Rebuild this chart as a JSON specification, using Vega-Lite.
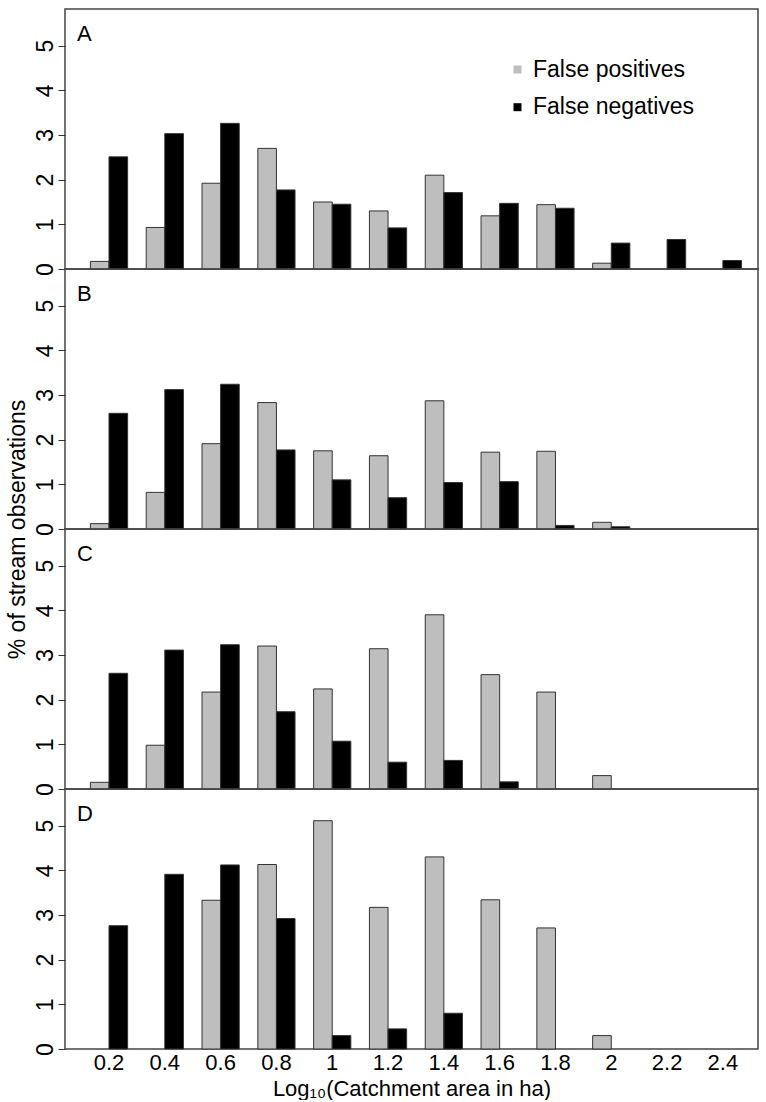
{
  "$schema": "https://vega.github.io/schema/vega-lite/v6.json",
  "padding": {"left": 5, "top": 8, "right": 5, "bottom": 0},
  "bounds": "flush",
  "spacing": 0,
  "background": "white",
  "config": {
    "font": "Liberation Sans",
    "view": {"stroke": "#444444", "strokeWidth": 1.5},
    "axis": {"labelFont": "Liberation Sans", "labelFontSize": 23, "labelColor": "#000000", "titleFont": "Liberation Sans", "titleFontSize": 23, "titleFontWeight": "normal", "titleColor": "#000000", "grid": false},
    "title": {"font": "Liberation Sans", "fontSize": 22, "fontWeight": "normal", "anchor": "start", "frame": "group", "color": "#000000"},
    "legend": {"labelFont": "Liberation Sans", "labelFontSize": 23, "labelColor": "#000000", "labelLimit": 0}
  },
  "resolve": {"scale": {"color": "independent"}},
  "data": {"values": [
    {"p":"A","bin":"0.2","type":"False positives","v":0.17},{"p":"A","bin":"0.2","type":"False negatives","v":2.51},
    {"p":"A","bin":"0.4","type":"False positives","v":0.93},{"p":"A","bin":"0.4","type":"False negatives","v":3.03},
    {"p":"A","bin":"0.6","type":"False positives","v":1.92},{"p":"A","bin":"0.6","type":"False negatives","v":3.26},
    {"p":"A","bin":"0.8","type":"False positives","v":2.70},{"p":"A","bin":"0.8","type":"False negatives","v":1.77},
    {"p":"A","bin":"1","type":"False positives","v":1.50},{"p":"A","bin":"1","type":"False negatives","v":1.45},
    {"p":"A","bin":"1.2","type":"False positives","v":1.30},{"p":"A","bin":"1.2","type":"False negatives","v":0.92},
    {"p":"A","bin":"1.4","type":"False positives","v":2.10},{"p":"A","bin":"1.4","type":"False negatives","v":1.71},
    {"p":"A","bin":"1.6","type":"False positives","v":1.19},{"p":"A","bin":"1.6","type":"False negatives","v":1.47},
    {"p":"A","bin":"1.8","type":"False positives","v":1.44},{"p":"A","bin":"1.8","type":"False negatives","v":1.36},
    {"p":"A","bin":"2","type":"False positives","v":0.13},{"p":"A","bin":"2","type":"False negatives","v":0.58},
    {"p":"A","bin":"2.2","type":"False negatives","v":0.66},
    {"p":"A","bin":"2.4","type":"False negatives","v":0.19},
    {"p":"B","bin":"0.2","type":"False positives","v":0.12},{"p":"B","bin":"0.2","type":"False negatives","v":2.59},
    {"p":"B","bin":"0.4","type":"False positives","v":0.82},{"p":"B","bin":"0.4","type":"False negatives","v":3.12},
    {"p":"B","bin":"0.6","type":"False positives","v":1.91},{"p":"B","bin":"0.6","type":"False negatives","v":3.24},
    {"p":"B","bin":"0.8","type":"False positives","v":2.83},{"p":"B","bin":"0.8","type":"False negatives","v":1.77},
    {"p":"B","bin":"1","type":"False positives","v":1.75},{"p":"B","bin":"1","type":"False negatives","v":1.10},
    {"p":"B","bin":"1.2","type":"False positives","v":1.64},{"p":"B","bin":"1.2","type":"False negatives","v":0.70},
    {"p":"B","bin":"1.4","type":"False positives","v":2.87},{"p":"B","bin":"1.4","type":"False negatives","v":1.04},
    {"p":"B","bin":"1.6","type":"False positives","v":1.72},{"p":"B","bin":"1.6","type":"False negatives","v":1.06},
    {"p":"B","bin":"1.8","type":"False positives","v":1.74},{"p":"B","bin":"1.8","type":"False negatives","v":0.08},
    {"p":"B","bin":"2","type":"False positives","v":0.15},{"p":"B","bin":"2","type":"False negatives","v":0.05},
    {"p":"C","bin":"0.2","type":"False positives","v":0.15},{"p":"C","bin":"0.2","type":"False negatives","v":2.59},
    {"p":"C","bin":"0.4","type":"False positives","v":0.98},{"p":"C","bin":"0.4","type":"False negatives","v":3.11},
    {"p":"C","bin":"0.6","type":"False positives","v":2.17},{"p":"C","bin":"0.6","type":"False negatives","v":3.23},
    {"p":"C","bin":"0.8","type":"False positives","v":3.20},{"p":"C","bin":"0.8","type":"False negatives","v":1.73},
    {"p":"C","bin":"1","type":"False positives","v":2.24},{"p":"C","bin":"1","type":"False negatives","v":1.07},
    {"p":"C","bin":"1.2","type":"False positives","v":3.14},{"p":"C","bin":"1.2","type":"False negatives","v":0.60},
    {"p":"C","bin":"1.4","type":"False positives","v":3.90},{"p":"C","bin":"1.4","type":"False negatives","v":0.64},
    {"p":"C","bin":"1.6","type":"False positives","v":2.56},{"p":"C","bin":"1.6","type":"False negatives","v":0.16},
    {"p":"C","bin":"1.8","type":"False positives","v":2.17},
    {"p":"C","bin":"2","type":"False positives","v":0.30},
    {"p":"D","bin":"0.2","type":"False negatives","v":2.76},
    {"p":"D","bin":"0.4","type":"False negatives","v":3.91},
    {"p":"D","bin":"0.6","type":"False positives","v":3.33},{"p":"D","bin":"0.6","type":"False negatives","v":4.12},
    {"p":"D","bin":"0.8","type":"False positives","v":4.13},{"p":"D","bin":"0.8","type":"False negatives","v":2.92},
    {"p":"D","bin":"1","type":"False positives","v":5.11},{"p":"D","bin":"1","type":"False negatives","v":0.30},
    {"p":"D","bin":"1.2","type":"False positives","v":3.17},{"p":"D","bin":"1.2","type":"False negatives","v":0.45},
    {"p":"D","bin":"1.4","type":"False positives","v":4.30},{"p":"D","bin":"1.4","type":"False negatives","v":0.80},
    {"p":"D","bin":"1.6","type":"False positives","v":3.34},
    {"p":"D","bin":"1.8","type":"False positives","v":2.71},
    {"p":"D","bin":"2","type":"False positives","v":0.30}
  ]},
  "vconcat": [
    {
      "title": {"text": "A", "offset": -37, "dx": 12},
      "width": 693, "height": 260,
      "transform": [{"filter": "datum.p === 'A'"}],
      "mark": {"type": "bar", "stroke": "#333333", "strokeWidth": 1},
      "encoding": {
        "x": {"field": "bin", "type": "ordinal", "scale": {"domain": ["0.2","0.4","0.6","0.8","1","1.2","1.4","1.6","1.8","2","2.2","2.4"], "paddingInner": 0.3333, "paddingOuter": 0.3755, "align": 0.606}, "axis": null},
        "xOffset": {"field": "type", "type": "nominal", "scale": {"domain": ["False positives","False negatives"], "paddingInner": 0, "paddingOuter": 0}},
        "y": {"field": "v", "type": "quantitative", "scale": {"domain": [0, 5.82], "nice": false}, "axis": {"values": [0,1,2,3,4,5], "labelAngle": -90, "labelAlign": "center", "labelBaseline": "alphabetic", "tickSize": 7, "tickColor": "#333333", "labelPadding": 6, "domain": false, "labelFlush": false, "title": null}},
        "color": {"field": "type", "type": "nominal", "scale": {"domain": ["False positives","False negatives"], "range": ["#bebebe","#000000"]}, "legend": {"orient": "none", "legendX": 441, "legendY": 49, "title": null, "padding": 0, "symbolType": "square", "symbolSize": 64, "symbolStrokeWidth": 0, "labelOffset": 4, "rowPadding": 13.7, "labelFontSize": 23, "labelLimit": 0}}
      }
    },
    {
      "title": {"text": "B", "offset": -37, "dx": 12},
      "width": 693, "height": 260,
      "transform": [{"filter": "datum.p === 'B'"}],
      "mark": {"type": "bar", "stroke": "#333333", "strokeWidth": 1},
      "encoding": {
        "x": {"field": "bin", "type": "ordinal", "scale": {"domain": ["0.2","0.4","0.6","0.8","1","1.2","1.4","1.6","1.8","2","2.2","2.4"], "paddingInner": 0.3333, "paddingOuter": 0.3755, "align": 0.606}, "axis": null},
        "xOffset": {"field": "type", "type": "nominal", "scale": {"domain": ["False positives","False negatives"], "paddingInner": 0, "paddingOuter": 0}},
        "y": {"field": "v", "type": "quantitative", "scale": {"domain": [0, 5.82], "nice": false}, "axis": {"values": [0,1,2,3,4,5], "labelAngle": -90, "labelAlign": "center", "labelBaseline": "alphabetic", "tickSize": 7, "tickColor": "#333333", "labelPadding": 6, "domain": false, "labelFlush": false, "title": "% of stream observations", "titleX": -41, "titleY": 260, "titleAngle": -90, "titleAlign": "center", "titleBaseline": "alphabetic"}},
        "color": {"field": "type", "type": "nominal", "scale": {"domain": ["False positives","False negatives"], "range": ["#bebebe","#000000"]}, "legend": null}
      }
    },
    {
      "title": {"text": "C", "offset": -37, "dx": 12},
      "width": 693, "height": 260,
      "transform": [{"filter": "datum.p === 'C'"}],
      "mark": {"type": "bar", "stroke": "#333333", "strokeWidth": 1},
      "encoding": {
        "x": {"field": "bin", "type": "ordinal", "scale": {"domain": ["0.2","0.4","0.6","0.8","1","1.2","1.4","1.6","1.8","2","2.2","2.4"], "paddingInner": 0.3333, "paddingOuter": 0.3755, "align": 0.606}, "axis": null},
        "xOffset": {"field": "type", "type": "nominal", "scale": {"domain": ["False positives","False negatives"], "paddingInner": 0, "paddingOuter": 0}},
        "y": {"field": "v", "type": "quantitative", "scale": {"domain": [0, 5.82], "nice": false}, "axis": {"values": [0,1,2,3,4,5], "labelAngle": -90, "labelAlign": "center", "labelBaseline": "alphabetic", "tickSize": 7, "tickColor": "#333333", "labelPadding": 6, "domain": false, "labelFlush": false, "title": null}},
        "color": {"field": "type", "type": "nominal", "scale": {"domain": ["False positives","False negatives"], "range": ["#bebebe","#000000"]}, "legend": null}
      }
    },
    {
      "title": {"text": "D", "offset": -37, "dx": 12},
      "width": 693, "height": 260,
      "transform": [{"filter": "datum.p === 'D'"}],
      "mark": {"type": "bar", "stroke": "#333333", "strokeWidth": 1},
      "encoding": {
        "x": {"field": "bin", "type": "ordinal", "scale": {"domain": ["0.2","0.4","0.6","0.8","1","1.2","1.4","1.6","1.8","2","2.2","2.4"], "paddingInner": 0.3333, "paddingOuter": 0.3755, "align": 0.606}, "axis": {"title": "Log₁₀(Catchment area in ha)", "labelAngle": 0, "ticks": false, "domain": false, "labelPadding": 3, "titlePadding": 5, "labelFontSize": 22, "titleFontSize": 22}},
        "xOffset": {"field": "type", "type": "nominal", "scale": {"domain": ["False positives","False negatives"], "paddingInner": 0, "paddingOuter": 0}},
        "y": {"field": "v", "type": "quantitative", "scale": {"domain": [0, 5.82], "nice": false}, "axis": {"values": [0,1,2,3,4,5], "labelAngle": -90, "labelAlign": "center", "labelBaseline": "alphabetic", "tickSize": 7, "tickColor": "#333333", "labelPadding": 6, "domain": false, "labelFlush": false, "title": null}},
        "color": {"field": "type", "type": "nominal", "scale": {"domain": ["False positives","False negatives"], "range": ["#bebebe","#000000"]}, "legend": null}
      }
    }
  ]
}
